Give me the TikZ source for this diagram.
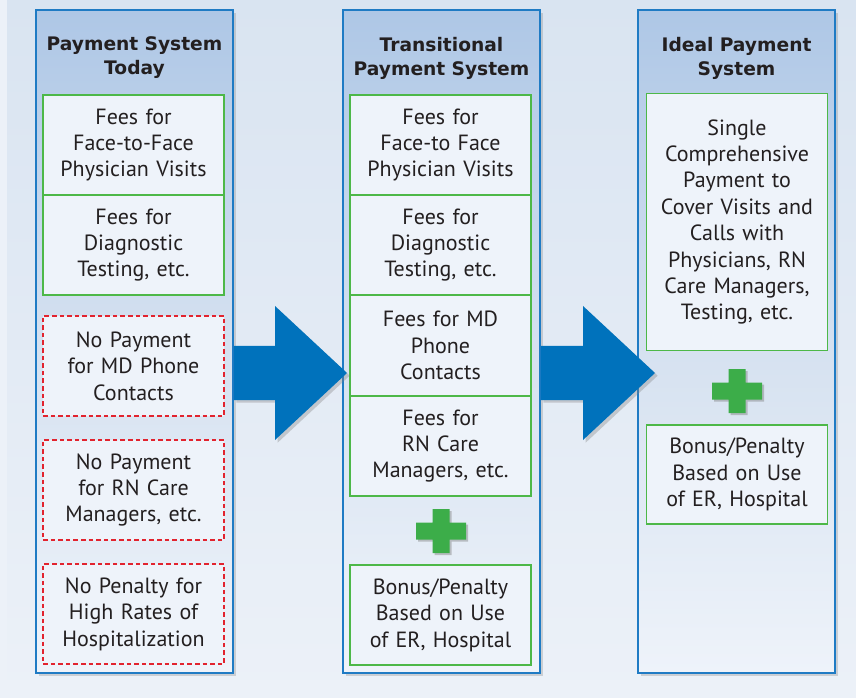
\documentclass[tikz,border=0pt]{standalone}
\usepackage{fontspec}
\setmainfont{PT Sans}
\newfontfamily\hdrfont{DejaVu Sans}
\usetikzlibrary{shadows}
\definecolor{bgtop}{HTML}{D9E4F1}
\definecolor{bgbot}{HTML}{ECF1F8}
\definecolor{coltop}{HTML}{AEC7E6}
\definecolor{colmid}{HTML}{D5E1F0}
\definecolor{colbot}{HTML}{EEF3FA}
\definecolor{colline}{HTML}{1F7BC4}
\definecolor{boxfill}{HTML}{EEF3FA}
\definecolor{boxgreen}{HTML}{4DB848}
\definecolor{boxred}{HTML}{E2232E}
\definecolor{arrowblue}{HTML}{0072BC}
\definecolor{plusgreen}{HTML}{3CAD49}
\definecolor{ink}{HTML}{231F20}
\tikzset{
  colbox/.style={draw=colline, line width=1.2pt, minimum width=147.75pt, minimum height=497.25pt, inner sep=0pt,
    top color=coltop, bottom color=colbot, middle color=colmid,
    drop shadow={opacity=0.3, shadow xshift=2.4pt, shadow yshift=-2.4pt}},
  hdr/.style={font=\hdrfont\fontsize{14pt}{18pt}\selectfont\bfseries, text=ink, align=center, text width=146pt, inner sep=0pt},
  box/.style={draw=boxgreen, line width=0.9pt, fill=boxfill, minimum width=135.75pt, minimum height=75pt, inner sep=0pt,
    font=\fontsize{16.5pt}{19.8pt}\selectfont, text=ink, align=center, text width=130pt},
  nobox/.style={box, draw=boxred, dash pattern=on 3.5pt off 2.2pt},
  bigarrow/.style={fill=arrowblue, drop shadow={opacity=0.35, shadow xshift=2pt, shadow yshift=-2pt}},
  plus/.style={fill=plusgreen, drop shadow={opacity=0.45, shadow xshift=1.6pt, shadow yshift=-1.6pt}},
}
\begin{document}
\begin{tikzpicture}[x=0.75pt,y=-0.75pt]
\useasboundingbox (0,0) rectangle (856,698);
\shade[top color=bgtop, bottom color=bgbot] (0,0) rectangle (856,698);
\fill[bgbot] (0,0) rectangle (7,698);
% columns
\node[colbox] (col1) at (134.5,341.5) {};
\node[colbox] (col2) at (441.5,341.5) {};
\node[colbox] (col3) at (736.5,341.5) {};
% headers
\node[hdr] (h1) at (134.5,58) {Payment System\\Today};
\node[hdr] (h2) at (441.5,58) {Transitional\\Payment System};
\node[hdr] (h3) at (736.5,58) {Ideal Payment\\System};
% column 1
\node[box] (a1) at (133.5,145) {Fees for\\Face-to-Face\\Physician Visits};
\node[box] (a2) at (133.5,245) {Fees for\\Diagnostic\\Testing, etc.};
\node[nobox] (a3) at (133.5,366) {No Payment\\for MD Phone\\Contacts};
\node[nobox] (a4) at (133.5,490) {No Payment\\for RN Care\\Managers, etc.};
\node[nobox] (a5) at (133.5,614) {No Penalty for\\High Rates of\\Hospitalization};
% column 2
\node[box] (b1) at (440.5,145) {Fees for\\Face-to Face\\Physician Visits};
\node[box] (b2) at (440.5,245) {Fees for\\Diagnostic\\Testing, etc.};
\node[box] (b3) at (440.5,345.5) {Fees for MD\\Phone\\Contacts};
\node[box] (b4) at (440.5,446) {Fees for\\RN Care\\Managers, etc.};
\node[box] (b5) at (440.5,615) {Bonus/Penalty\\Based on Use\\of ER, Hospital};
% column 3
\node[box, minimum height=192.75pt] (c1) at (737,222) {Single\\Comprehensive\\Payment to\\Cover Visits and\\Calls with\\Physicians, RN\\Care Managers,\\Testing, etc.};
\node[box, minimum height=74.25pt] (c2) at (737,474.5) {Bonus/Penalty\\Based on Use\\of ER, Hospital};
% plus signs
\coordinate (p1) at (441,531);
\coordinate (p2) at (737,391);
\foreach \p in {p1,p2}{
  \fill[plus] ([shift={(-25,-8.5)}]\p) -- ([shift={(-8.5,-8.5)}]\p) -- ([shift={(-8.5,-22)}]\p) -- ([shift={(8.5,-22)}]\p)
    -- ([shift={(8.5,-8.5)}]\p) -- ([shift={(25,-8.5)}]\p) -- ([shift={(25,8.5)}]\p) -- ([shift={(8.5,8.5)}]\p)
    -- ([shift={(8.5,22)}]\p) -- ([shift={(-8.5,22)}]\p) -- ([shift={(-8.5,8.5)}]\p) -- ([shift={(-25,8.5)}]\p) -- cycle;
}
% arrows
\coordinate (t1) at (347,373);
\coordinate (t2) at (655,373);
\fill[bigarrow] (col1.east |- 0,346) -- (275,346) -- (275,306) -- (t1) -- (275,440) -- (275,400) -- (col1.east |- 0,400) -- cycle;
\fill[bigarrow] (col2.east |- 0,346) -- (583,346) -- (583,306) -- (t2) -- (583,440) -- (583,400) -- (col2.east |- 0,400) -- cycle;
\end{tikzpicture}
\end{document}
